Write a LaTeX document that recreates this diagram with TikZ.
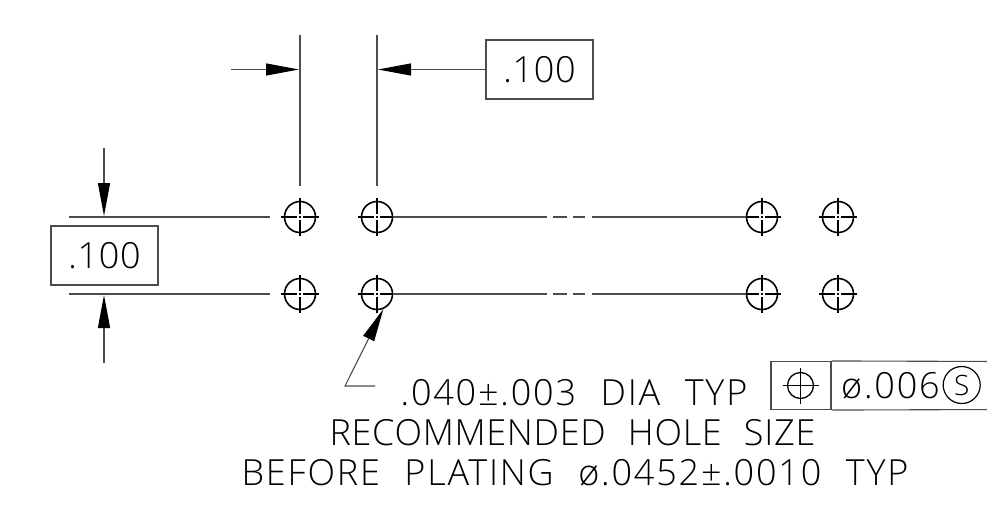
\documentclass[tikz,border=0pt]{standalone}
\usepackage{fontspec}
\newfontfamily\cadfont[LetterSpace=5,WordSpace=2.2]{Open Sans Light}
\newfontfamily\cadnarrow[LetterSpace=2,WordSpace=2.2]{Open Sans Light}
\usetikzlibrary{arrows.meta}

\begin{document}
\begin{tikzpicture}[
    x = 1pt,
    y = -1pt,
    thin line/.style = {line width = 1.1pt, black!70},
    hole/.style = {draw, circle, line width = 1.6pt, inner sep = 0pt,
      minimum size = 31pt},
    crossmark/.style = {line width = 1.1pt},
    dim/.style = {thin line, -{Triangle[length = 33pt, width = 12pt, black]}},
    valuebox/.style = {draw, thin line, text = black, inner sep = 0pt,
      minimum width = 107pt, minimum height = 59pt,
      font = \cadnarrow\fontsize{36}{36}\selectfont},
    note/.style = {inner sep = 0pt, anchor = base, text = black,
      font = \cadfont\fontsize{36}{36}\selectfont},
    ]

    \useasboundingbox (0, 0) rectangle (987, 516);

    % holes
    \foreach \name/\xpos in {a/300, b/377, c/762, d/838} {
      \foreach \row/\ypos in {1/217, 2/294} {
        \node at (\xpos, \ypos) [hole, name = H_\name\row] {};
        \draw [crossmark] (H_\name\row.center) ++(-19, 0) -- ++(16, 0)
        ++(2, 0) -- ++(2, 0) ++(2, 0) -- ++(16, 0);
        \draw [crossmark] (H_\name\row.center) ++(0, -19) -- ++(0, 16)
        ++(0, 2) -- ++(0, 2) ++(0, 2) -- ++(0, 16);
      }
    }

    % boxes
    \node at (539.5, 69.5) [valuebox, name = V_top] {.100};
    \node at (104.5, 255.5) [valuebox, name = V_left] {.100};

    % extension lines
    \coordinate (E_1) at (69, 217);
    \coordinate (E_2) at (69, 294);
    \coordinate (T_a) at (300, 35);
    \coordinate (T_b) at (377, 35);
    \draw [thin line] (E_1) -- (270, 217);
    \draw [thin line] (E_2) -- (270, 294);
    \draw [thin line] (T_a) -- (300, 186);
    \draw [thin line] (T_b) -- (377, 186);

    \foreach \row/\ypos in {1/217, 2/294} {
      \draw [thin line] (H_b\row.east) -- (547, \ypos);
      \draw [thin line] (553, \ypos) -- (567, \ypos);
      \draw [thin line] (573, \ypos) -- (585, \ypos);
      \draw [thin line] (592, \ypos) -- (H_c\row.west);
    }

    % dimension arrows
    \coordinate (A_a) at (231, 69.5);
    \coordinate (A_t) at (104, 148);
    \coordinate (A_b) at (104, 363);
    \draw [dim] (A_a) -- (299, 69.5);
    \draw [dim] (V_top.west) -- (378, 69.5);
    \draw [dim] (A_t) -- (104, 216);
    \draw [dim] (A_b) -- (104, 295);

    % leader
    \coordinate (L_e) at (375, 386);
    \coordinate (L_k) at (345, 386);
    \draw [dim] (L_e) -- (L_k) -- (H_b2.-67);

    % notes
    \node at (574, 405) [note] {.040±.003 DIA TYP};
    \node at (572.5, 445) [note, font = \cadnarrow\fontsize{36}{36}\selectfont]
    {RECOMMENDED HOLE SIZE};
    \node at (575, 485) [note] {BEFORE PLATING ø.0452±.0010 TYP};

    % feature control frame
    \node at (801, 385.5) [draw, thin line, minimum width = 60pt, minimum height = 48pt,
      inner sep = 0pt, name = F_sym] {};
    \draw [thin line] (F_sym.north east) -- (1000, 361.5);
    \draw [thin line] (F_sym.south east) -- (1000, 409.5);
    \node at (800.5, 385.5) [draw, circle, line width = 1.3pt, inner sep = 0pt,
      minimum size = 26pt, name = F_pos] {};
    \draw [crossmark] (F_pos.center) ++(-18, 0) -- ++(36, 0);
    \draw [crossmark] (F_pos.center) ++(0, -18) -- ++(0, 36);
    \node at (841, 398) [note, anchor = base west] {ø.006};
    \node at (961.7, 385) [draw, circle, line width = 1.2pt, inner sep = 0pt,
      minimum size = 37pt, text = black,
      font = \cadfont\fontsize{28}{28}\selectfont, name = F_s] {S};
  \end{tikzpicture}
\end{document}
